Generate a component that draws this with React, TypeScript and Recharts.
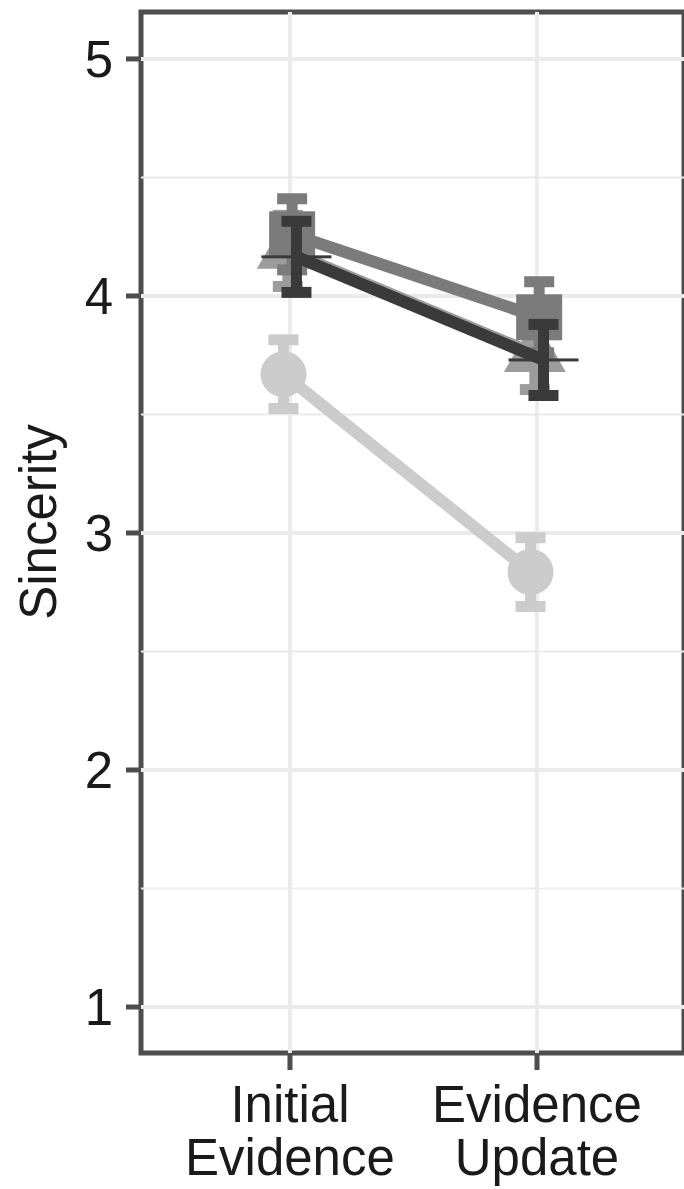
import React from 'react'
import {
  ComposedChart,
  Scatter,
  XAxis,
  YAxis,
  ReferenceLine,
  ReferenceArea,
} from 'recharts'

// two conditions on the x axis
const categories = ['Initial Evidence', 'Evidence Update']
const categoryX = [1, 2]

// group means and error half-widths
const lightMeans = [3.67, 2.835]
const lightErr = [0.145, 0.145]
const triangleMeans = [4.19, 3.755]
const triangleErr = [0.15, 0.15]
const mediumMeans = [4.26, 3.91]
const mediumErr = [0.15, 0.15]
const darkMeans = [4.165, 3.73]
const darkErr = [0.15, 0.15]

const yTicks = [1, 2, 3, 4, 5]
const yMinor = [1.5, 2.5, 3.5, 4.5]

const X_DOMAIN: [number, number] = [0.397, 2.595]
const Y_DOMAIN: [number, number] = [0.806, 5.198]
const DODGE = 0.07

const LIGHT = '#cccccc'
const TRI = '#9c9c9c'
const MED = '#7b7b7b'
const DARK = '#3a3a3a'
const BORDER = '#4d4d4d'
const GRID = '#ebebeb'
const FONT = '"Liberation Sans", Arial, sans-serif'

function dodge(group: number) {
  return (group - 1.5) * (DODGE / 4)
}

function rows(means: number[], group: number) {
  return means.map((m, i) => ({ x: categoryX[i] + dodge(group), y: m }))
}

// one low/high pair per category, joined by the scatter line = the error bar stem
function errRows(means: number[], errs: number[], group: number) {
  return means.map((m, i) => [
    { x: categoryX[i] + dodge(group), y: m - errs[i] },
    { x: categoryX[i] + dodge(group), y: m + errs[i] },
  ])
}

const CircleShape = (p: any) => <circle cx={p.cx} cy={p.cy} r={23} fill={LIGHT} />

const TriangleShape = (p: any) => {
  const r = 35.8
  const h = r * 0.866
  const pts = `${p.cx},${p.cy - r} ${p.cx + h},${p.cy + r / 2} ${p.cx - h},${p.cy + r / 2}`
  return <polygon points={pts} fill={TRI} />
}

const SquareShape = (p: any) => (
  <rect x={p.cx - 23} y={p.cy - 23} width={46} height={46} fill={MED} />
)

const DashShape = (p: any) => (
  <rect x={p.cx - 35} y={p.cy - 1.5} width={70} height={3} fill={DARK} />
)

const NoShape = () => <g />

const capShape = (color: string) => (p: any) => (
  <rect x={p.cx - 15} y={p.cy - 5.5} width={30} height={11} fill={color} />
)

const series = [
  { key: 'light', means: lightMeans, errs: lightErr, color: LIGHT, shape: CircleShape },
  { key: 'tri', means: triangleMeans, errs: triangleErr, color: TRI, shape: TriangleShape },
  { key: 'med', means: mediumMeans, errs: mediumErr, color: MED, shape: SquareShape },
  { key: 'dark', means: darkMeans, errs: darkErr, color: DARK, shape: DashShape },
]

const XTick = (props: any) => {
  const { x, y, payload } = props
  const idx = categoryX.indexOf(payload.value)
  const words = (categories[idx] || '').split(' ')
  return (
    <text x={x} y={y} textAnchor="middle" fontSize={51} fill="#1a1a1a" fontFamily={FONT}>
      {words.map((w, i) => (
        <tspan key={i} x={x} dy={i === 0 ? 50 : 53}>
          {w}
        </tspan>
      ))}
    </text>
  )
}

const YLabel = () => (
  <text
    x={56}
    y={522}
    transform="rotate(-90, 56, 522)"
    textAnchor="middle"
    fontSize={51}
    fill="#1a1a1a"
    fontFamily={FONT}
  >
    Sincerity
  </text>
)

export default function App() {
  return (
    <div style={{ position: 'absolute', left: 0, top: 0 }}>
      <ComposedChart
        width={684}
        height={1189}
        margin={{ top: 12, right: 0, bottom: 0, left: 0 }}
      >
        <XAxis
          type="number"
          dataKey="x"
          domain={X_DOMAIN}
          ticks={categoryX}
          allowDataOverflow
          height={136}
          tick={<XTick />}
          tickSize={17}
          tickLine={{ stroke: BORDER, strokeWidth: 5 }}
          axisLine={false}
        />
        <YAxis
          type="number"
          dataKey="y"
          domain={Y_DOMAIN}
          ticks={yTicks}
          allowDataOverflow
          width={141}
          tickSize={15}
          tickMargin={13}
          tickLine={{ stroke: BORDER, strokeWidth: 5 }}
          axisLine={false}
          tick={{ fontSize: 51, fill: '#1a1a1a', fontFamily: FONT }}
          label={<YLabel />}
        />
        {yMinor.map((v) => (
          <ReferenceLine key={'m' + v} y={v} stroke={GRID} strokeWidth={2} />
        ))}
        {yTicks.map((v) => (
          <ReferenceLine key={'y' + v} y={v} stroke={GRID} strokeWidth={4} />
        ))}
        {categoryX.map((v) => (
          <ReferenceLine key={'x' + v} x={v} stroke={GRID} strokeWidth={4} />
        ))}
        {series.flatMap((s, g) => [
          // markers first, then the connecting line, then the error bars
          <Scatter
            key={s.key + '-pts'}
            data={rows(s.means, g)}
            shape={s.shape}
            isAnimationActive={false}
          />,
          <Scatter
            key={s.key + '-line'}
            data={rows(s.means, g)}
            line={{ stroke: s.color, strokeWidth: 12 }}
            shape={NoShape}
            isAnimationActive={false}
          />,
          ...errRows(s.means, s.errs, g).map((pair, i) => (
            <Scatter
              key={s.key + '-err' + i}
              data={pair}
              line={{ stroke: s.color, strokeWidth: 11 }}
              shape={capShape(s.color)}
              isAnimationActive={false}
            />
          )),
        ])}
        <ReferenceArea
          x1={X_DOMAIN[0]}
          x2={X_DOMAIN[1]}
          y1={Y_DOMAIN[0]}
          y2={Y_DOMAIN[1]}
          fill="none"
          stroke={BORDER}
          strokeWidth={5}
        />
      </ComposedChart>
    </div>
  )
}
